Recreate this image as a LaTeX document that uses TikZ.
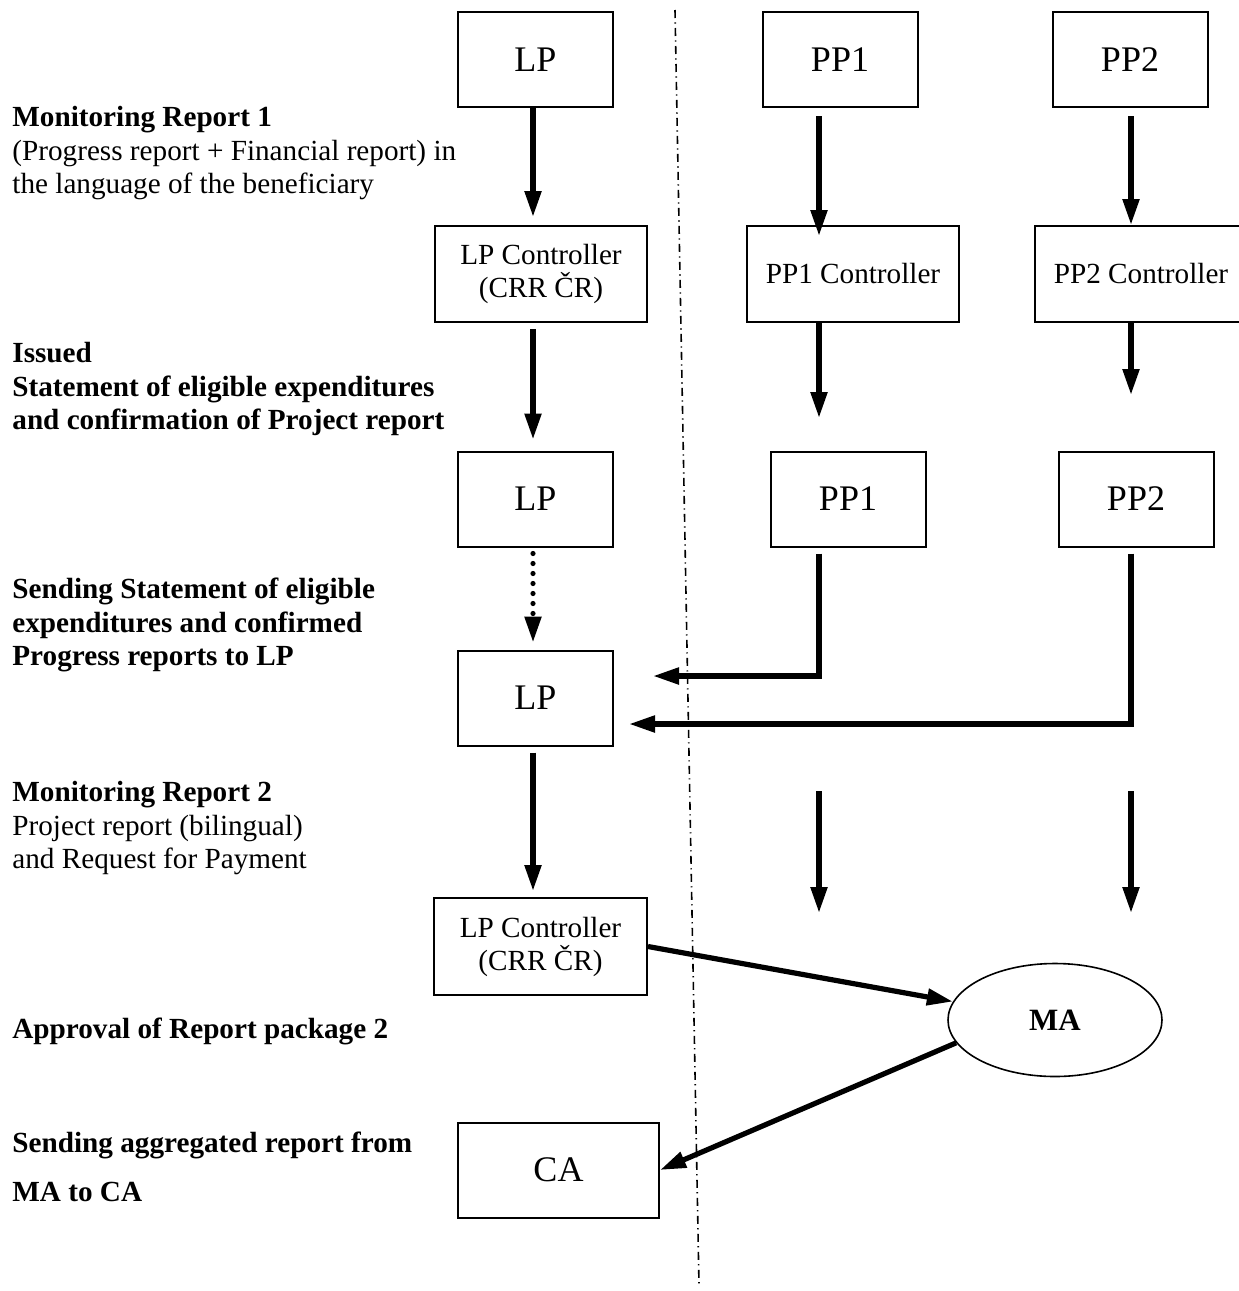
\documentclass[tikz,border=0pt]{standalone}
\usepackage{fontspec}
\setmainfont{Liberation Serif}
\usetikzlibrary{arrows.meta,shapes.geometric}
\begin{document}
\begin{tikzpicture}[x=0.5pt,y=-0.5pt,
  box/.style={draw, line width=1pt, minimum width=77.5pt, minimum height=47.5pt, inner sep=0pt, font=\fontsize{18}{20}\selectfont},
  ctrl/.style={draw, line width=1pt, minimum width=106pt, minimum height=48pt, inner sep=0pt, align=center, font=\fontsize{14.6}{16.5}\selectfont},
  lbl/.style={anchor=north west, inner sep=0pt, align=left, font=\fontsize{14.6}{16.75}\selectfont},
  lblb/.style={lbl, font=\bfseries\fontsize{14.6}{16.75}\selectfont},
  arr/.style={-{Triangle[length=13pt,width=8pt]}, line width=2.6pt},
  dotarr/.style={arr, dash pattern=on 0pt off 5pt, line cap=round},
  divider/.style={line width=0.8pt, dash pattern=on 4pt off 2.2pt on 0.6pt off 2.2pt}]
\useasboundingbox (0,0) rectangle (1238,1291);

% columns of the arrows
\coordinate (collp) at (533,0);
\coordinate (colpp1) at (819,0);
\coordinate (colpp2) at (1131,0);

% divider
\coordinate (divtop) at (675,10);
\coordinate (divbot) at (699,1285);
\draw[divider] (divtop) -- (divbot);

% boxes
\node[box] (lp1) at (535.5,59.5) {LP};
\node[box] (pp1a) at (840,59.5) {PP1};
\node[box] (pp2a) at (1130,59.5) {PP2};
\node[ctrl] (lpc1) at (541,274) {LP Controller\\(CRR ČR)};
\node[ctrl] (pp1c) at (853,274) {PP1 Controller};
\node[ctrl] (pp2c) at (1141,274) {PP2 Controller};
\node[box] (lp2) at (535.5,499) {LP};
\node[box] (pp1b) at (848,499) {PP1};
\node[box] (pp2b) at (1136,499) {PP2};
\node[box] (lp3) at (535.5,698) {LP};
\node[ctrl, minimum width=106.5pt, minimum height=48.5pt] (lpc2) at (540.5,946.5) {LP Controller\\(CRR ČR)};
\node[ellipse, draw, line width=0.8pt, minimum width=107pt, minimum height=56.5pt, inner sep=0pt, font=\bfseries\fontsize{15.5}{18}\selectfont] (ma) at (1055,1020) {MA};
\node[box, minimum width=100.5pt] (ca) at (558.5,1170) {CA};

% labels
\node[lbl] (mr1) at (12,106) {\textbf{Monitoring Report 1}\\(Progress report + Financial report) in\\the language of the beneficiary};
\node[lblb] (iss) at (12,342) {Issued\\Statement of eligible expenditures\\and confirmation of Project report};
\node[lblb] (send1) at (12,578) {Sending Statement of eligible\\expenditures and confirmed\\Progress reports to LP};
\node[lbl] (mr2) at (12,781) {\textbf{Monitoring Report 2}\\Project report (bilingual)\\and Request for Payment};
\node[lblb] (appr) at (12,1018) {Approval of Report package 2};
\node[lblb, font=\bfseries\fontsize{14.6}{24.5}\selectfont] (send2) at (12,1132) {Sending aggregated report from\\MA to CA};

% free ends
\coordinate (pp1free1) at (819,418);
\coordinate (pp2free1) at (1131,395);
\coordinate (turn1) at (819,676);
\coordinate (turn2) at (1131,724);
\coordinate (pp1top2) at (819,791);
\coordinate (pp1free2) at (819,913);
\coordinate (pp2top2) at (1131,791);
\coordinate (pp2free2) at (1131,913);

% arrows
\draw[arr, shorten >=4pt] (lp1.south -| collp) -- (lpc1.north -| collp);
\draw[arr, shorten <=4pt, shorten >=-5.5pt] (pp1a.south -| colpp1) -- (pp1c.north -| colpp1);
\draw[arr, shorten <=4pt] (pp2a.south -| colpp2) -- (pp2c.north -| colpp2);
\draw[arr, shorten <=3pt, shorten >=5.5pt] (lpc1.south -| collp) -- (lp2.north -| collp);
\draw[arr] (pp1c.south -| colpp1) -- (pp1free1);
\draw[arr] (pp2c.south -| colpp2) -- (pp2free1);
\draw[dotarr, shorten <=3pt, shorten >=3.5pt] (lp2.south -| collp) -- (lp3.north -| collp);
\draw[arr, shorten <=3pt, shorten >=19.5pt] (pp1b.south -| colpp1) -- (turn1) -- (turn1 -| lp3.east);
\draw[arr, shorten <=3pt, shorten >=7.5pt] (pp2b.south -| colpp2) -- (turn2) -- (turn2 -| lp3.east);
\draw[arr, shorten <=3pt, shorten >=3pt] (lp3.south -| collp) -- (lpc2.north -| collp);
\draw[arr] (pp1top2) -- (pp1free2);
\draw[arr] (pp2top2) -- (pp2free2);
\draw[arr] (lpc2.east) -- (ma);
\draw[arr] (ma.193) -- (ca.east);

\end{tikzpicture}
\end{document}
